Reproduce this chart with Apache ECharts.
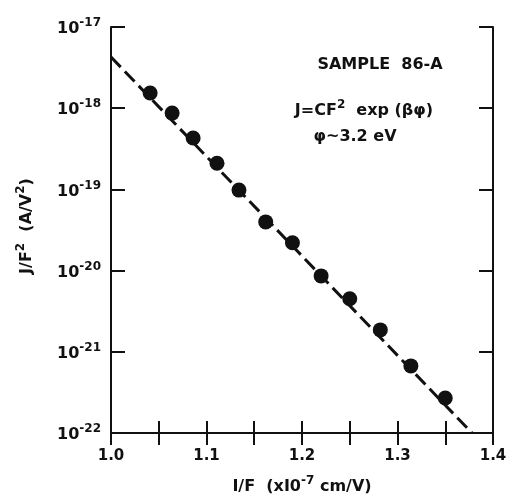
<!DOCTYPE html>
<html><head><meta charset="utf-8">
<script src="https://cdn.jsdelivr.net/npm/echarts@6/dist/echarts.min.js"></script>
<style>html,body{margin:0;padding:0;background:#fff;}#c{width:508px;height:500px;}</style>
</head><body><div id="c"></div>
<script>
var xValues = [1.041, 1.064, 1.086, 1.111, 1.134, 1.162, 1.190, 1.220, 1.250, 1.282, 1.314, 1.350];
var yValues = [1.54e-18, 8.7e-19, 4.3e-19, 2.1e-19, 9.8e-20, 3.98e-20, 2.2e-20, 8.6e-21, 4.5e-21, 1.86e-21, 6.7e-22, 2.7e-22];
var fitX = [1.0, 1.378];
var fitY = [4.27e-18, 1e-22];
var xTicks = [1.0, 1.1, 1.2, 1.3, 1.4];
var yTickExps = [-22, -21, -20, -19, -18, -17];

var FONT = '"DejaVu Sans", "Liberation Sans", Arial, sans-serif';
var INK = '#111';
var points = xValues.map(function (x, i) { return [x, yValues[i]]; });
var fit = fitX.map(function (x, i) { return [x, fitY[i]]; });
var yMin = Math.pow(10, yTickExps[0]) * 0.99999;
var yMax = Math.pow(10, yTickExps[yTickExps.length - 1]) * 1.00001;

function richSet(base, sup, lift) {
  return {
    b: { fontFamily: FONT, fontWeight: 'bold', fontSize: base, color: INK, fill: INK, verticalAlign: 'bottom', lineHeight: base + 4 },
    s: { fontFamily: FONT, fontWeight: 'bold', fontSize: sup, color: INK, fill: INK, verticalAlign: 'bottom', lineHeight: base + 4, padding: [0, 0, lift, 0] }
  };
}

var axisLine = { show: true, lineStyle: { color: INK, width: 2 } };
var chart = echarts.init(document.getElementById('c'));
chart.setOption({
  backgroundColor: '#fff',
  animation: false,
  grid: { left: 111, right: 15, top: 27, bottom: 67, containLabel: false, outerBoundsMode: 'none' },
  xAxis: [{
    type: 'value', min: 1.0, max: 1.4, interval: 0.05, position: 'bottom',
    axisLine: axisLine,
    axisTick: { show: true, inside: true, length: 12, lineStyle: { color: INK, width: 2 } },
    splitLine: { show: false },
    axisLabel: {
      margin: 16, color: INK, fontFamily: FONT, fontWeight: 'bold', fontSize: 15,
      showMinLabel: true, showMaxLabel: true, hideOverlap: false,
      formatter: function (v) {
        for (var i = 0; i < xTicks.length; i++) if (Math.abs(v - xTicks[i]) < 1e-6) return xTicks[i].toFixed(1);
        return '';
      }
    },
    name: '{b|I/F  (xI0}{s|-7}{b| cm/V)}',
    nameLocation: 'middle', nameGap: 42,
    nameTextStyle: { rich: richSet(16, 12, 8) }
  }, {
    type: 'value', min: 1.0, max: 1.4, interval: 0.05, position: 'top',
    axisLine: axisLine,
    axisTick: { show: true, inside: true, length: 12, lineStyle: { color: INK, width: 2 } },
    splitLine: { show: false }, axisLabel: { show: false }
  }],
  yAxis: [{
    type: 'log', logBase: 10, min: yMin, max: yMax, position: 'left',
    axisLine: axisLine,
    axisTick: { show: true, inside: true, length: 14, lineStyle: { color: INK, width: 2 } },
    minorTick: { show: false },
    splitLine: { show: false },
    axisLabel: {
      margin: 10, fontFamily: FONT,
      showMinLabel: true, showMaxLabel: true, hideOverlap: false,
      formatter: function (v) {
        var e = Math.round(Math.log(v) / Math.LN10);
        return '{b|10}{s|' + e + '}';
      },
      rich: richSet(16, 12, 8)
    }
  }, {
    type: 'log', logBase: 10, min: yMin, max: yMax, position: 'right',
    axisLine: axisLine,
    axisTick: { show: true, inside: true, length: 14, lineStyle: { color: INK, width: 2 } },
    minorTick: { show: false },
    splitLine: { show: false }, axisLabel: { show: false }
  }],
  series: [{
    type: 'line', data: fit, symbol: 'none', silent: true,
    lineStyle: { color: INK, width: 3, type: [14, 6] }
  }, {
    type: 'scatter', data: points, symbol: 'circle', symbolSize: 15,
    itemStyle: { color: INK, opacity: 1 }
  }],
  graphic: [{
    type: 'text', x: 380, y: 65, style: {
      text: 'SAMPLE  86-A', align: 'center', verticalAlign: 'middle',
      font: 'bold 16px ' + FONT, fill: INK
    }
  }, {
    type: 'text', x: 364, y: 109, style: {
      text: '{b|J=CF}{s|2}{b|  exp (βφ)}', align: 'center', verticalAlign: 'middle',
      rich: richSet(16, 12, 8)
    }
  }, {
    type: 'text', x: 355, y: 137, style: {
      text: 'φ~3.2 eV', align: 'center', verticalAlign: 'middle',
      font: 'bold 16px ' + FONT, fill: INK
    }
  }, {
    type: 'text', x: 25, y: 226, rotation: Math.PI / 2, style: {
      text: '{b|J/F}{s|2}{b|  (A/V}{s|2}{b|)}', align: 'center', verticalAlign: 'middle',
      rich: richSet(16, 12, 8)
    }
  }]
});
</script></body></html>
